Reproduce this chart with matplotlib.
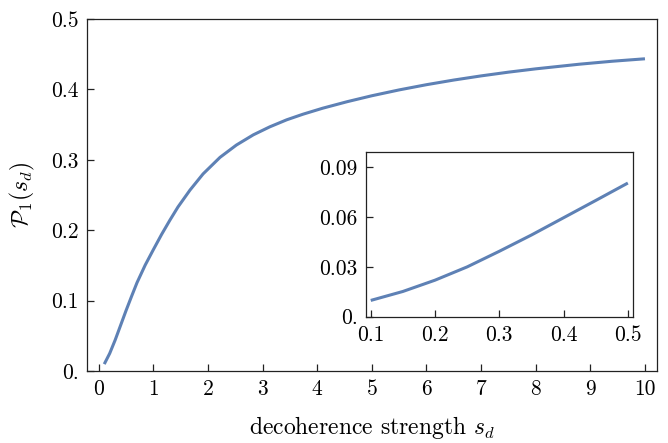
import numpy as np
import matplotlib
matplotlib.use('Agg')
import matplotlib.pyplot as plt

s_main = [0.1, 0.2, 0.3, 0.4, 0.5, 0.6, 0.7, 0.85, 1.0, 1.15, 1.3, 1.45,
          1.67, 1.91, 2.22, 2.52, 2.83, 3.13, 3.44, 3.74, 4.1, 4.55, 5.0,
          5.5, 6.0, 6.5, 7.0, 7.5, 8.0, 8.8, 9.4, 10.0]
p_main = [0.0098, 0.025, 0.044, 0.065, 0.086, 0.106, 0.1255, 0.1505, 0.1725,
          0.194, 0.214, 0.233, 0.257, 0.280, 0.3035, 0.321, 0.3355, 0.3468,
          0.3568, 0.3648, 0.3733, 0.3826, 0.391, 0.3993, 0.4067, 0.4133,
          0.4192, 0.4245, 0.4292, 0.4358, 0.4400, 0.4435]

s_inset = [0.1, 0.15, 0.2, 0.25, 0.3, 0.35, 0.4, 0.45, 0.5]
p_inset = [0.0098, 0.0152, 0.0220, 0.0300, 0.0394, 0.0492, 0.0596, 0.0700, 0.0805]

main_xticks = [0, 1, 2, 3, 4, 5, 6, 7, 8, 9, 10]
main_yticks = [0, 0.1, 0.2, 0.3, 0.4, 0.5]
main_ylabels = ['0.', '0.1', '0.2', '0.3', '0.4', '0.5']
inset_xticks = [0.1, 0.2, 0.3, 0.4, 0.5]
inset_yticks = [0, 0.03, 0.06, 0.09]
inset_ylabels = ['0.', '0.03', '0.06', '0.09']

plt.rcParams['font.family'] = 'serif'
plt.rcParams['font.serif'] = ['cmr10']
plt.rcParams['mathtext.fontset'] = 'cm'
plt.rcParams['axes.formatter.use_mathtext'] = True

line_color = '#5E81B5'
frame_color = '#222222'

fig = plt.figure(figsize=(6.68, 4.43), dpi=100)
ax = fig.add_axes([0.1307, 0.1625, 0.8528, 0.7946])
ax.plot(s_main, p_main, color=line_color, lw=2.2, solid_capstyle='butt',
        solid_joinstyle='round')
ax.set_xlim(-0.21, 10.22)
ax.set_ylim(0, 0.5)
ax.set_xticks(main_xticks)
ax.set_xticklabels([str(t) for t in main_xticks])
ax.set_yticks(main_yticks)
ax.set_yticklabels(main_ylabels)
ax.set_xlabel(r'decoherence strength $s_d$', fontsize=17, labelpad=11)
ax.set_ylabel(r'$\mathcal{P}_1(s_d)$', fontsize=17, labelpad=10)

ins = fig.add_axes([0.5475, 0.2851, 0.4001, 0.3718])
ins.plot(s_inset, p_inset, color=line_color, lw=2.2, solid_capstyle='butt',
         solid_joinstyle='round')
ins.set_xlim(0.0922, 0.508)
ins.set_ylim(0, 0.0992)
ins.set_xticks(inset_xticks)
ins.set_xticklabels([str(t) for t in inset_xticks])
ins.set_yticks(inset_yticks)
ins.set_yticklabels(inset_ylabels)

for a in (ax, ins):
    a.tick_params(direction='in', length=5, width=0.9, color=frame_color,
                  labelsize=15.5, top=False, right=False, pad=6)
    for sp in a.spines.values():
        sp.set_color(frame_color)
        sp.set_linewidth(0.9)

fig.savefig('out.png', dpi=100)
